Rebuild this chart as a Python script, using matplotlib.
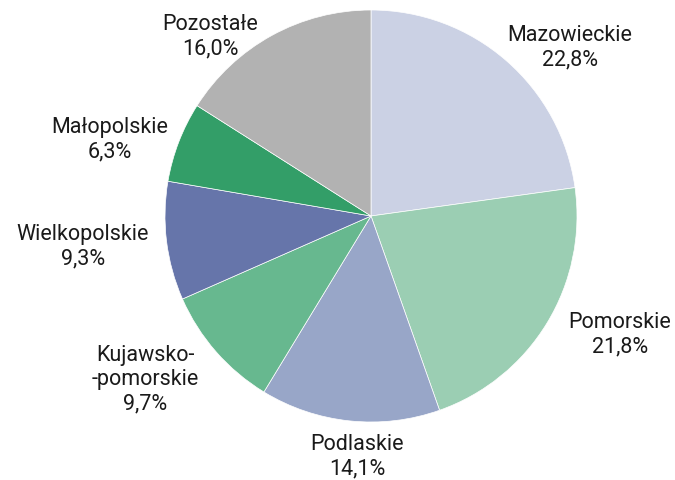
import matplotlib.pyplot as plt

regions = ['Mazowieckie', 'Pomorskie', 'Podlaskie', 'Kujawsko-\n-pomorskie',
           'Wielkopolskie', 'Małopolskie', 'Pozostałe']
shares = [22.8, 21.8, 14.1, 9.7, 9.3, 6.3, 16.0]
colors = ['#cbd1e4', '#9bceb3', '#98a6c8', '#67b88f', '#6675aa', '#339e68', '#b2b2b2']

# label centres in pie units (radius = 1)
label_pos = [(0.966, 0.82), (1.209, -0.57), (-0.068, -1.165), (-1.097, -0.79),
             (-1.398, -0.146), (-1.267, 0.374), (-0.782, 0.874)]

plt.rcParams['font.family'] = ['Roboto', 'DejaVu Sans']

fig = plt.figure(figsize=(6.75, 4.81), dpi=100)
cx, cy, r = 371, 481 - 217, 206
ax = fig.add_axes([(cx - r) / 675, (cy - r) / 481, 2 * r / 675, 2 * r / 481])

ax.pie(shares, colors=colors, startangle=90, counterclock=False, radius=1,
       wedgeprops=dict(edgecolor='white', linewidth=0.5))

for name, val, (x, y) in zip(regions, shares, label_pos):
    txt = name + '\n' + ('%.1f%%' % val).replace('.', ',')
    ax.text(x, y, txt, ha='center', va='center', fontsize=15.5,
            color='#1a1a1a', linespacing=1.2, clip_on=False)

ax.set_xlim(-1, 1)
ax.set_ylim(-1, 1)
ax.set_aspect('equal')
ax.axis('off')

fig.savefig('out.png', dpi=100)
